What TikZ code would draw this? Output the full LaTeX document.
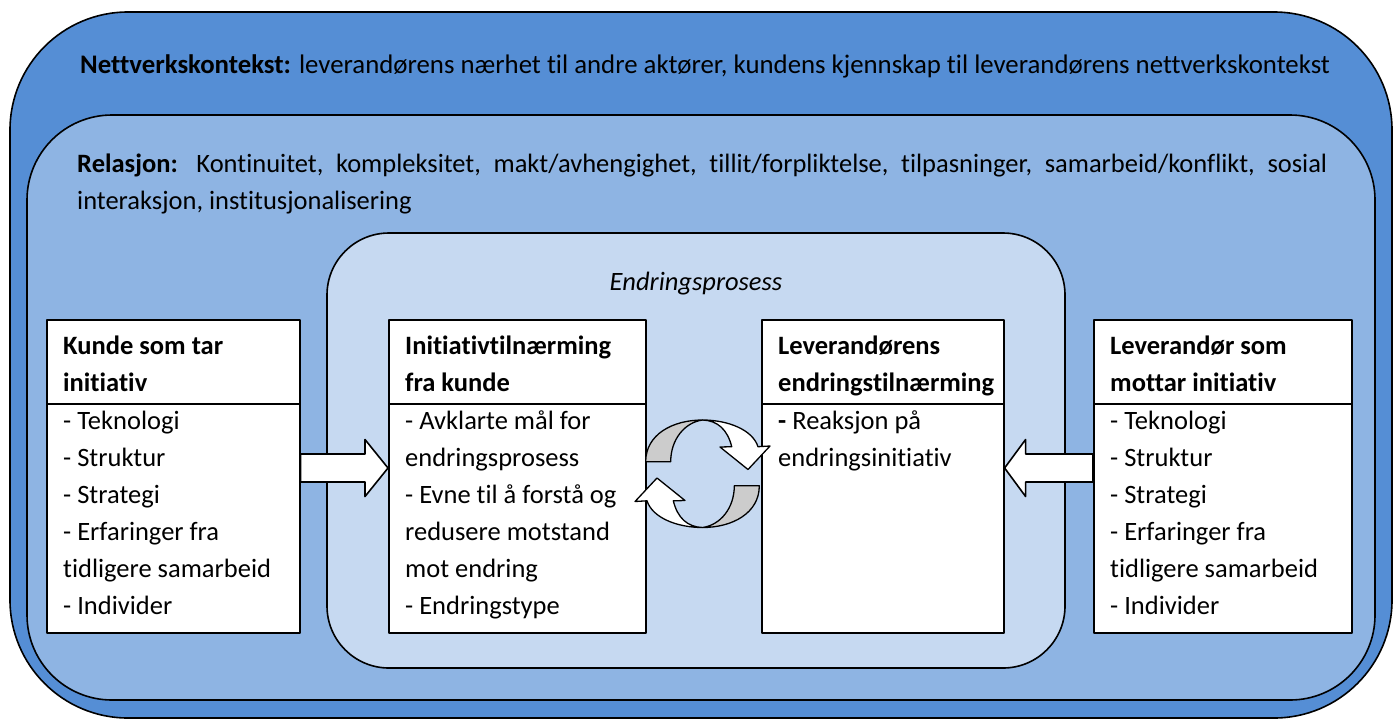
\documentclass[tikz,border=0pt]{standalone}
\usepackage{fontspec}
\setmainfont{Carlito}[Ligatures=NoCommon]
\usetikzlibrary{calc}

\definecolor{netblue}{HTML}{558ED5}
\definecolor{relblue}{HTML}{8EB4E3}
\definecolor{procblue}{HTML}{C6D9F1}
\definecolor{twistgray}{HTML}{CCCCCC}

\begin{document}
\begin{tikzpicture}[x=1pt,y=-1pt,line join=round,
  frame/.style={draw=black,line width=1.6pt},
  cardpart/.style={draw=black,line width=1.6pt,fill=white,rectangle,inner sep=0pt,anchor=north west},
  txt/.style={anchor=base west,inner sep=0pt,font=\fontsize{26.5}{37}\selectfont},
  blockarrow/.style={draw=black,line width=1.6pt,fill=white},
  band/.style={draw=black,line width=1.3pt},
  twistarrow/.pic={
    % grey back side of the ribbon
    \draw[band,fill=twistgray] (-56.8,-12.8) .. controls (-56.8,-40) and (-30,-54.5) .. (0,-54.5)
      .. controls (-18,-52) and (-31.8,-35) .. (-31.8,-12.8) -- cycle;
    % white front side with its head
    \draw[band,fill=white] (0,-54.5) .. controls (25,-54.5) and (50,-45) .. (55.5,-27.8)
      -- (67.5,-28.5) -- (45.5,-5) -- (17.5,-27.5) -- (29.2,-27.8)
      .. controls (25,-45) and (15,-54) .. (0,-54.5) -- cycle;
  }]

\useasboundingbox (0,0) rectangle (1399,721);
\fill[white] (0,0) rectangle (1399,721);

% nested context frames
\draw[frame,fill=netblue,rounded corners=118pt] (10,12) rectangle (1392,718);
\draw[frame,fill=relblue,rounded corners=85pt] (27,115) rectangle (1375,700);
\draw[frame,fill=procblue,rounded corners=62pt] (327,233) rectangle (1065,668);

% frame texts
\node[txt,font=\fontsize{26.8}{37}\selectfont] (net) at (80,73) {\textbf{Nettverkskontekst:} leverandørens nærhet til andre aktører, kundens kjennskap til leverandørens nettverkskontekst};
\node[txt] (rel) at (77,172) {\parbox[t]{1250pt}{\textbf{Relasjon:} Kontinuitet, kompleksitet, makt/avhengighet, tillit/forpliktelse, tilpasninger, samarbeid/konflikt, sosial\linebreak interaksjon, institusjonalisering}};
\node[anchor=base,inner sep=0pt,font=\fontsize{26.5}{37}\selectfont\itshape] (proc) at (696,290) {Endringsprosess};

% cards: header part and list part
\node[cardpart,minimum width=253pt,minimum height=84pt] (kundeH) at (46,319) {};
\node[cardpart,minimum width=253pt,minimum height=229pt] (kundeB) at (46,403) {};
\node[cardpart,minimum width=257pt,minimum height=84pt] (initH) at (388,319) {};
\node[cardpart,minimum width=257pt,minimum height=229pt] (initB) at (388,403) {};
\node[cardpart,minimum width=242pt,minimum height=84pt] (levH) at (761,319) {};
\node[cardpart,minimum width=242pt,minimum height=229pt] (levB) at (761,403) {};
\node[cardpart,minimum width=258pt,minimum height=84pt] (suppH) at (1093,319) {};
\node[cardpart,minimum width=258pt,minimum height=229pt] (suppB) at (1093,403) {};

% card texts
\node[txt] (kundeT) at (63,354) {\parbox[t]{240pt}{\raggedright\bfseries Kunde som tar\\initiativ}};
\node[txt] (kundeL) at (63,429) {\parbox[t]{240pt}{\raggedright - Teknologi\\- Struktur\\- Strategi\\- Erfaringer fra\\tidligere samarbeid\\- Individer}};
\node[txt] (initT) at (405,354) {\parbox[t]{240pt}{\raggedright\bfseries Initiativtilnærming\\fra kunde}};
\node[txt] (initL) at (405,429) {\parbox[t]{240pt}{\raggedright - Avklarte mål for\\endringsprosess\\- Evne til å forstå og\\redusere motstand\\mot endring\\- Endringstype}};
\node[txt] (levT) at (778,354) {\parbox[t]{240pt}{\raggedright\bfseries Leverandørens\\endringstilnærming}};
\node[txt] (levL) at (778,429) {\parbox[t]{240pt}{\raggedright \textbf{-} Reaksjon på\\endringsinitiativ}};
\node[txt] (suppT) at (1110,354) {\parbox[t]{240pt}{\raggedright\bfseries Leverandør som\\mottar initiativ}};
\node[txt] (suppL) at (1110,429) {\parbox[t]{240pt}{\raggedright - Teknologi\\- Struktur\\- Strategi\\- Erfaringer fra\\tidligere samarbeid\\- Individer}};

% block arrows into the change process
\coordinate (amid) at (0,468);
\path (kundeB.east |- amid) coordinate (la0) (initB.west |- amid) coordinate (la1);
\path (suppB.west |- amid) coordinate (ra0) (levB.east |- amid) coordinate (ra1);
\draw[blockarrow] ($(la0)+(0,-14)$) -- ($(la1)+(-23,-14)$) -- ($(la1)+(-23,-28.5)$) -- (la1)
  -- ($(la1)+(-23,28.5)$) -- ($(la1)+(-23,14)$) -- ($(la0)+(0,14)$) -- cycle;
\draw[blockarrow] ($(ra0)+(0,-14)$) -- ($(ra1)+(21,-14)$) -- ($(ra1)+(21,-28.5)$) -- (ra1)
  -- ($(ra1)+(21,28.5)$) -- ($(ra1)+(21,14)$) -- ($(ra0)+(0,14)$) -- cycle;

% circular exchange arrows between the two approaches
\pic at (702.5,474.5) {twistarrow};
\pic[rotate=180] at (702.5,473) {twistarrow};

\end{tikzpicture}
\end{document}
